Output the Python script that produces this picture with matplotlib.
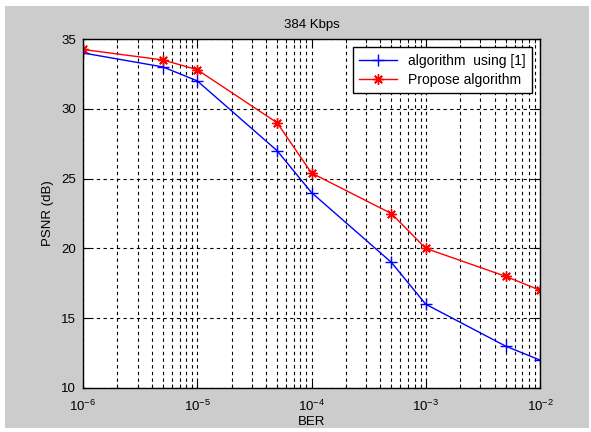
import matplotlib
matplotlib.use("Agg")
import matplotlib.pyplot as plt
from matplotlib.patches import Rectangle

plt.rcParams['font.family'] = ['Liberation Sans', 'DejaVu Sans']
plt.rcParams['mathtext.fontset'] = 'custom'
plt.rcParams['mathtext.rm'] = 'Liberation Sans'
plt.rcParams['mathtext.it'] = 'Liberation Sans'

ber = [1e-6, 5e-6, 1e-5, 5e-5, 1e-4, 5e-4, 1e-3, 5e-3, 1e-2]
psnr_ref = [34.0, 33.0, 32.0, 27.0, 24.0, 19.0, 16.0, 13.0, 12.0]
psnr_prop = [34.25, 33.5, 32.8, 29.0, 25.4, 22.5, 20.0, 18.0, 17.0]
labels = ['algorithm  using [1]', 'Propose algorithm']
title = '384 Kbps'
xlabel = 'BER'
ylabel = 'PSNR (dB)'

fig = plt.figure(figsize=(5.91, 4.32), dpi=100, facecolor='white')
fig.patches.append(Rectangle((5/591, 4/432), 584/591, 422/432, transform=fig.transFigure,
                             facecolor='#cccccc', edgecolor='none', zorder=-10))
ax = fig.add_axes([83/591, 1 - 388/432, (540 - 83)/591, (388 - 39)/432])
ax.set_facecolor('white')

ax.plot(ber, psnr_ref, color='blue', marker='+', markersize=9, markeredgewidth=1,
        linewidth=1, label=labels[0])
ax.plot(ber, psnr_prop, color='red', marker=(8, 2, 0), markersize=7.5, markeredgewidth=1,
        linewidth=1, label=labels[1])

ax.set_xscale('log')
ax.set_xlim(1e-6, 1e-2)
ax.set_ylim(10, 35)
ax.set_yticks([10, 15, 20, 25, 30, 35])
ax.set_xticks([1e-6, 1e-5, 1e-4, 1e-3, 1e-2])

ax.grid(True, which='major', axis='both', color='black', linestyle=(0, (3, 3)), linewidth=0.8)
ax.grid(True, which='minor', axis='x', color='black', linestyle=(0, (3, 3)), linewidth=0.8)

ax.tick_params(direction='in', which='both', top=True, right=True, labelsize=9.5)
ax.tick_params(which='major', length=5)
ax.tick_params(which='minor', length=3)
ax.tick_params(axis='x', which='both', pad=8)
ax.tick_params(axis='y', which='both', pad=5)
for s in ax.spines.values():
    s.set_linewidth(1)

ax.set_title(title, fontsize=9.5, pad=8)
ax.set_xlabel(xlabel, fontsize=9.5, labelpad=1)
ax.set_ylabel(ylabel, fontsize=9.5, labelpad=5)

leg = ax.legend(loc='upper right', fontsize=10, fancybox=False, framealpha=1,
                edgecolor='black', borderaxespad=0.6, handlelength=2.7, borderpad=0.45,
                labelspacing=0.4)
leg.get_frame().set_linewidth(1)

fig.savefig('out.png', dpi=100, facecolor='white')
